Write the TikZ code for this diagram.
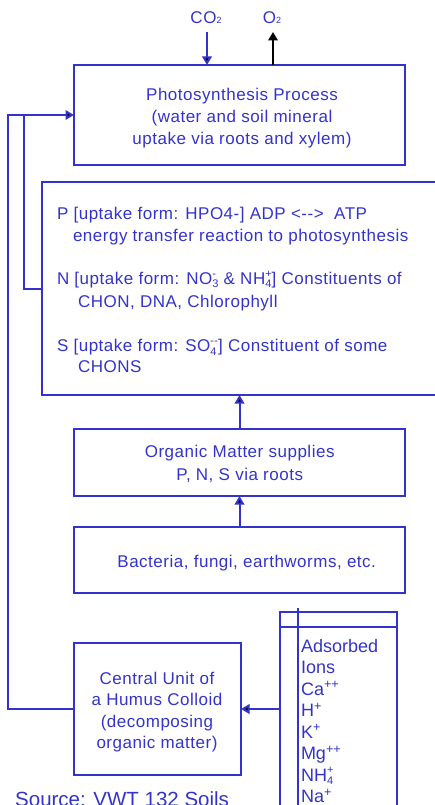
\documentclass[tikz,border=0pt]{standalone}
\usepackage{fontspec}
\setmainfont{Liberation Sans}
\usetikzlibrary{arrows.meta}
\definecolor{dblue}{RGB}{51,51,204}
\newcommand{\smallfs}{\fontsize{11}{11}\selectfont}
\newcommand{\ionsub}[2]{\setbox0=\hbox{\raisebox{-0.2em}{\smallfs #1}}\setbox2=\hbox{\raisebox{0.42em}{\smallfs #2}}\ifdim\wd0>\wd2 \rlap{\box2}\box0 \else\rlap{\box0}\box2 \fi}
\tikzset{
  box/.style={draw=dblue, line width=2pt, rectangle, inner sep=0pt, outer sep=0pt},
  txt/.style={text=dblue, inner sep=0pt, outer sep=0pt, font=\fontsize{17}{20}\selectfont\addfontfeature{LetterSpace=3}},
  ion/.style={text=dblue, inner sep=0pt, outer sep=0pt, anchor=base west, font=\fontsize{18}{20}\selectfont},
  conn/.style={draw=dblue, line width=2pt},
  arr/.style={conn, -{Triangle[length=8.5pt,width=9.5pt,fill=black]}},
  blackarr/.style={draw=black, line width=2pt, -{Triangle[length=8.5pt,width=9.5pt,fill=black]}}
}
\begin{document}
\begin{tikzpicture}[x=1pt,y=-1pt]
\useasboundingbox (0,0) rectangle (435,805);
% boxes
\node[box, minimum width=331pt, minimum height=100pt] (photo) at (239.5,115) {};
\node[box, minimum width=403pt, minimum height=213pt] (info) at (243.5,288.5) {};
\node[box, minimum width=331pt, minimum height=67pt] (organic) at (239.5,462.5) {};
\node[box, minimum width=331pt, minimum height=66pt] (bact) at (239.5,560) {};
\node[box, minimum width=167pt, minimum height=132pt] (humus) at (157.5,709) {};
\node[box, minimum width=117pt, minimum height=218pt] (ions) at (338.5,721) {};
\draw[conn] (280,627) -- (397,627);
\draw[conn] (298,608) -- (298,830);
% gases
\node[txt, anchor=base] (co2) at (206,24) {CO{\fontsize{9}{9}\selectfont 2}};
\node[txt, anchor=base] (o2) at (272,24) {O{\fontsize{9}{9}\selectfont 2}};
\coordinate (co2a) at (207,32);
\coordinate (o2a) at (273,32);
\draw[arr] (co2a) -- (co2a |- photo.north);
\draw[blackarr] (o2a |- photo.north) -- (o2a);
% photosynthesis text
\node[txt, anchor=base] (p1) at (242,101) {Photosynthesis Process};
\node[txt, anchor=base] (p2) at (242,123) {(water and soil mineral};
\node[txt, anchor=base] (p3) at (242,145) {uptake via roots and xylem)};
% info text
\node[txt, anchor=base west] (l1) at (57,219.3) {P [uptake form: HPO4-] ADP <-{}-> \ ATP};
\node[txt, anchor=base west] (l2) at (73,241) {energy transfer reaction to photosynthesis};
\node[txt, anchor=base west] (l3) at (57,284.3) {N [uptake form: NO\ionsub{3}{-} \& NH\ionsub{4}{+}] Constituents of};
\node[txt, anchor=base west] (l4) at (78,307.7) {CHON, DNA, Chlorophyll};
\node[txt, anchor=base west] (l5) at (57,351.7) {S [uptake form: SO\ionsub{4}{-{}-}] Constituent of some};
\node[txt, anchor=base west] (l6) at (78,372.7) {CHONS};
% organic text
\node[txt, anchor=base] (o1) at (239.7,457.3) {Organic Matter supplies};
\node[txt, anchor=base] (o2t) at (239.7,480) {P, N, S via roots};
% bacteria
\node[txt, anchor=base] (b1) at (246.7,567.7) {Bacteria, fungi, earthworms, etc.};
% humus
\node[txt, anchor=base] (h1) at (157,684) {Central Unit of};
\node[txt, anchor=base] (h2) at (157,705.5) {a Humus Colloid};
\node[txt, anchor=base] (h3) at (157,727) {(decomposing};
\node[txt, anchor=base] (h4) at (157,748.5) {organic matter)};
% ions
\node[ion] (i1) at (301,652) {Adsorbed};
\node[ion] (i2) at (301,673.5) {Ions};
\node[ion] (i3) at (301,695) {Ca\textsuperscript{++}};
\node[ion] (i4) at (301,716.5) {H\textsuperscript{+}};
\node[ion] (i5) at (301,738) {K\textsuperscript{+}};
\node[ion] (i6) at (301,759.5) {Mg\textsuperscript{++}};
\node[ion] (i7) at (301,781) {NH\ionsub{4}{+}};
\node[ion] (i8) at (301,802.5) {Na\textsuperscript{+}};
% source
\node[text=dblue, inner sep=0pt, anchor=base west, font=\fontsize{20.5}{22}\selectfont] (src) at (15,806.5) {Source: VWT 132 Soils};
% connectors
\draw[arr] (bact.north) -- (organic.south);
\draw[arr] (organic.north) -- (organic.north |- info.south);
\draw[arr] (ions.west |- humus.east) -- (humus.east);
\coordinate (j) at (24,115);
\draw[arr] (humus.west) -- ++(-66,0) |- (photo.west);
\draw[conn] (info.west) -| (j);
\end{tikzpicture}
\end{document}
